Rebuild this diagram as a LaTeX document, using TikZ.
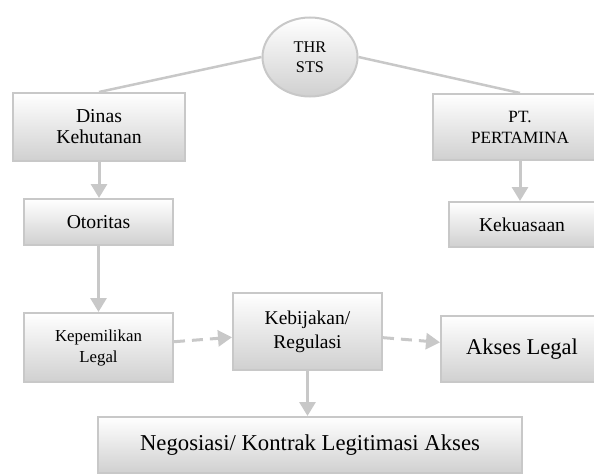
\documentclass[tikz,border=0pt]{standalone}
\usepackage{fontspec}
\setmainfont{Liberation Serif}
\usetikzlibrary{arrows.meta,shapes.geometric}
\definecolor{garis}{RGB}{200,200,200}
\definecolor{dasar}{RGB}{208,208,208}
\begin{document}
\begin{tikzpicture}[x=1pt,y=-1pt,
	kotak/.style={draw=garis,line width=2pt,top color=white,bottom color=dasar,align=center,inner sep=0pt},
	panah/.style={draw=garis,line width=3pt,-{Triangle[length=14pt,width=16pt]}},
	putus/.style={panah,dash pattern=on 11pt off 7pt}]
\def\huruf#1#2{\fontsize{#1}{#2}\selectfont}% {ukuran}{jarak baris}
\useasboundingbox (0,0) rectangle (594,476);
\clip (0,0) rectangle (594,476);

\node[kotak,ellipse,minimum width=95pt,minimum height=79pt,font=\huruf{16.3}{20}] (thr) at (310,57) {THR\\STS};
\node[kotak,minimum width=172pt,minimum height=68pt,font=\huruf{19.7}{21}] (dinas) at (99,127) {Dinas\\Kehutanan};
\node[kotak,minimum width=149pt,minimum height=46pt,font=\huruf{19.7}{21}] (otoritas) at (98.5,222) {Otoritas};
\node[kotak,minimum width=149pt,minimum height=69pt,font=\huruf{16.8}{21}] (milik) at (98.5,347.5) {Kepemilikan\\Legal};
\node[kotak,minimum width=149pt,minimum height=77pt,font=\huruf{19.5}{24}] (bijak) at (307.5,331.5) {Kebijakan/\\Regulasi};
\node[kotak,minimum width=174pt,minimum height=66pt,font=\huruf{17.2}{21}] (pt) at (520,127) {PT.\\PERTAMINA};
\node[kotak,minimum width=146pt,minimum height=45pt,font=\huruf{19.6}{21}] (kuasa) at (522,224.5) {Kekuasaan};
\node[kotak,minimum width=162pt,minimum height=66pt,font=\huruf{22.5}{24}] (akses) at (522,349) {Akses Legal};
\node[kotak,minimum width=424pt,minimum height=56pt,font=\huruf{22.7}{24}] (nego) at (310,445) {Negosiasi/ Kontrak Legitimasi Akses};

\draw[garis,line width=2.5pt] (thr.west) -- (dinas.north);
\draw[garis,line width=2.5pt] (thr.east) -- (pt.north);
\foreach \a/\b in {dinas/otoritas,otoritas/milik,pt/kuasa,bijak/nego}
	\draw[panah] (\a.south) -- (\a.south |- \b.north);
\draw[putus] (milik) -- (bijak);
\draw[putus] (bijak) -- (akses);
\end{tikzpicture}
\end{document}
